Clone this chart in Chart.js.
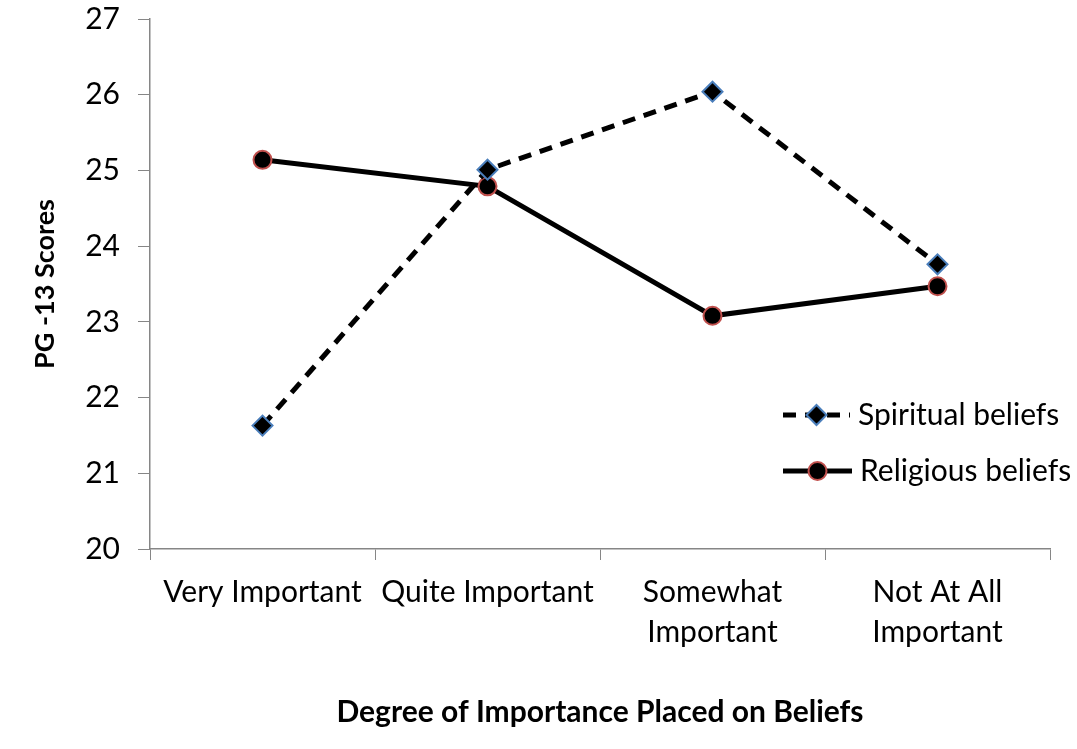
<!DOCTYPE html>
<html>
<head>
<meta charset="utf-8">
<script src="https://cdn.jsdelivr.net/npm/chart.js@4.4.0/dist/chart.umd.min.js"></script>
<style>
  html, body { margin: 0; padding: 0; background: #fff; }
  #wrap { width: 1077px; height: 749px; position: relative; }
</style>
</head>
<body>
<div id="wrap"><canvas id="chart"></canvas></div>
<script>
const categories = [['Very Important'], ['Quite Important'], ['Somewhat', 'Important'], ['Not At All', 'Important']];
const spiritual = [21.63, 25.01, 26.04, 23.76];
const religious = [25.14, 24.79, 23.08, 23.47];
const yTicks = [20, 21, 22, 23, 24, 25, 26, 27];

const FONT = 'Lato, "Open Sans", sans-serif';

// legend drawn inside the plot, line + marker like the office style
const insideLegend = {
  id: 'insideLegend',
  afterDraw(chart) {
    const ctx = chart.ctx;
    const rows = [{ y: 415, x0: 783, x1: 850 }, { y: 471, x0: 783, x1: 852 }];
    chart.data.datasets.forEach((ds, i) => {
      const r = rows[i];
      ctx.save();
      ctx.strokeStyle = ds.borderColor;
      ctx.lineWidth = ds.borderWidth;
      ctx.setLineDash(ds.borderDash || []);
      ctx.beginPath();
      ctx.moveTo(r.x0, r.y);
      ctx.lineTo(r.x1, r.y);
      ctx.stroke();
      ctx.setLineDash([]);
      const mx = (r.x0 + r.x1) / 2;
      ctx.fillStyle = ds.pointBackgroundColor;
      ctx.strokeStyle = ds.pointBorderColor;
      ctx.lineWidth = ds.pointBorderWidth;
      ctx.beginPath();
      if (ds.pointStyle === 'rectRot') {
        const s = ds.pointRadius;
        ctx.moveTo(mx, r.y - s); ctx.lineTo(mx + s, r.y); ctx.lineTo(mx, r.y + s); ctx.lineTo(mx - s, r.y); ctx.closePath();
      } else {
        ctx.arc(mx, r.y, ds.pointRadius, 0, Math.PI * 2);
      }
      ctx.fill();
      ctx.stroke();
      ctx.fillStyle = '#000';
      ctx.font = '30px ' + FONT;
      ctx.textBaseline = 'middle';
      ctx.fillText(ds.label, r.x1 + 8, r.y);
      ctx.restore();
    });
  }
};

new Chart(document.getElementById('chart'), {
  type: 'line',
  data: {
    labels: categories,
    datasets: [
      {
        label: 'Spiritual beliefs',
        data: spiritual,
        borderColor: '#000',
        borderWidth: 5,
        borderDash: [13, 9],
        pointStyle: 'rectRot',
        pointRadius: 10,
        pointBackgroundColor: '#000',
        pointBorderColor: '#4a7ebb',
        pointBorderWidth: 2,
        tension: 0
      },
      {
        label: 'Religious beliefs',
        data: religious,
        borderColor: '#000',
        borderWidth: 5,
        pointStyle: 'circle',
        pointRadius: 9,
        pointBackgroundColor: '#000',
        pointBorderColor: '#c0504d',
        pointBorderWidth: 2,
        tension: 0
      }
    ]
  },
  options: {
    responsive: true,
    maintainAspectRatio: false,
    animation: false,
    layout: { padding: { top: 0, right: 27, bottom: 0, left: 0 } },
    plugins: { legend: { display: false }, tooltip: { enabled: false } },
    scales: {
      x: {
        offset: true,
        grid: { display: true, drawOnChartArea: false, color: '#868686', tickLength: 11, offset: true },
        border: { color: '#868686', width: 1.5 },
        ticks: { color: '#000', font: { family: FONT, size: 30, lineHeight: 1.33 }, padding: 12, maxRotation: 0, autoSkip: false },
        title: { display: true, text: 'Degree of Importance Placed on Beliefs', color: '#000', font: { family: FONT, size: 30, weight: 'bold' }, padding: { top: 20, bottom: 19 } },
        afterFit(scale) { scale.height = 200; }
      },
      y: {
        min: 20,
        max: 27,
        afterBuildTicks(scale) { scale.ticks = yTicks.map(v => ({ value: v })); },
        grid: { display: true, drawOnChartArea: false, color: '#868686', tickLength: 12 },
        border: { color: '#868686', width: 1.5 },
        ticks: { color: '#000', font: { family: FONT, size: 30 }, padding: 18 },
        title: { display: true, text: 'PG -13 Scores', color: '#000', font: { family: FONT, size: 27, weight: 'bold' }, padding: { top: 29, bottom: 0 } },
        afterFit(scale) { scale.width = 150; scale.paddingTop = 19; }
      }
    }
  },
  plugins: [insideLegend]
});
</script>
</body>
</html>
